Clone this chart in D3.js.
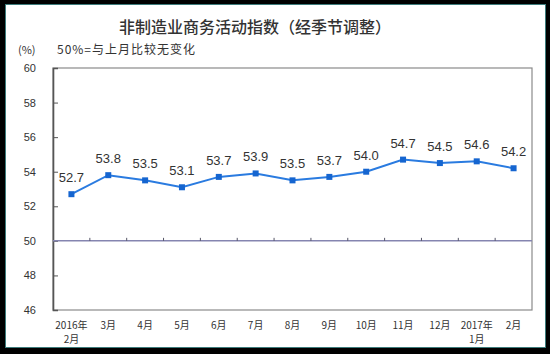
<!DOCTYPE html>
<html>
<head>
<meta charset="utf-8">
<script src="https://cdn.jsdelivr.net/npm/d3@7"></script>
<style>
  body { margin: 0; background: #000; }
  svg { display: block; }
  text { font-family: "Liberation Sans", Arial, "Noto Sans CJK SC", sans-serif; }
</style>
</head>
<body>
<div id="chart"></div>
<script>
// data
const months = ['2016年|2月', '3月', '4月', '5月', '6月', '7月', '8月', '9月', '10月', '11月', '12月', '2017年|1月', '2月'];
const values = [52.7, 53.8, 53.5, 53.1, 53.7, 53.9, 53.5, 53.7, 54.0, 54.7, 54.5, 54.6, 54.2];
const yTicks = [46, 48, 50, 52, 54, 56, 58, 60];
const title = '非制造业商务活动指数（经季节调整）';
const unitNote = '(%)';
const baseNote = '50%=与上月比较无变化';

const W = 550, H = 354;
const margin = {top: 68, right: 18, bottom: 44, left: 53};
const width = W - margin.left - margin.right;
const height = H - margin.top - margin.bottom;

const svg = d3.select('#chart').append('svg')
    .attr('width', W)
    .attr('height', H);

// white card with thin teal edge
svg.append('rect')
    .attr('x', 5.5).attr('y', 4.5)
    .attr('width', 540).attr('height', 343)
    .attr('fill', '#fff')
    .attr('stroke', '#3d7b7b')
    .attr('stroke-width', 1);

svg.append('text')
    .attr('x', 255).attr('y', 33)
    .attr('text-anchor', 'middle')
    .style('font-family', '"Noto Sans CJK SC", sans-serif')
    .style('font-size', '16px')
    .style('font-weight', 500)
    .style('fill', '#333')
    .text(title);

svg.append('text')
    .attr('x', 18).attr('y', 54)
    .style('font-family', '"Noto Sans CJK SC", sans-serif')
    .style('font-size', '11px')
    .style('fill', '#333')
    .text(unitNote);

svg.append('text')
    .attr('x', 57).attr('y', 54)
    .style('font-family', '"Noto Sans CJK SC", sans-serif')
    .style('font-size', '12px')
    .style('letter-spacing', '1px')
    .style('fill', '#333')
    .text(baseNote);

const g = svg.append('g')
    .attr('transform', `translate(${margin.left}, ${margin.top})`);

// scales
const x = d3.scaleBand()
    .domain(months)
    .range([0, width]);

const y = d3.scaleLinear()
    .domain([46, 60])
    .range([height, 0]);

// plot frame
g.append('rect')
    .attr('x', 0).attr('y', 0)
    .attr('width', width).attr('height', height)
    .attr('fill', 'none')
    .attr('stroke', '#8a8a8a')
    .attr('stroke-width', 1.2);

// y axis, ticks pointing inward
const yAxis = d3.axisRight(y)
    .tickValues(yTicks)
    .tickSize(5)
    .tickFormat('');

const yAxisGroup = g.append('g')
    .attr('class', 'y-axis')
    .call(yAxis);
yAxisGroup.select('.domain')
    .attr('stroke', '#555')
    .attr('stroke-width', 1.6);
yAxisGroup.selectAll('.tick line').attr('stroke', '#555');

// y tick labels
g.append('g').selectAll('text')
    .data(yTicks)
    .join('text')
    .attr('x', -17)
    .attr('y', d => y(d) + 4)
    .attr('text-anchor', 'end')
    .style('font-size', '11px')
    .style('fill', '#333')
    .text(d => d);

// 50 line with category ticks
g.append('line')
    .attr('x1', 0).attr('x2', width)
    .attr('y1', y(50)).attr('y2', y(50))
    .attr('stroke', '#8585b0')
    .attr('stroke-width', 1.5);

g.append('g').selectAll('line')
    .data(months.slice(1))
    .join('line')
    .attr('x1', d => x(d)).attr('x2', d => x(d))
    .attr('y1', y(50) - 3).attr('y2', y(50))
    .attr('stroke', '#556')
    .attr('stroke-width', 1);

// x labels
const xl = g.append('g').selectAll('text')
    .data(months)
    .join('text')
    .attr('x', d => x(d) + x.bandwidth() / 2)
    .attr('y', height + 19)
    .attr('text-anchor', 'middle')
    .style('font-family', '"Noto Sans CJK SC", sans-serif')
    .style('font-size', '10px')
    .style('fill', '#333');
xl.each(function(d) {
    const parts = d.split('|');
    d3.select(this).selectAll('tspan')
        .data(parts)
        .join('tspan')
        .attr('x', x(d) + x.bandwidth() / 2)
        .attr('dy', (p, i) => i === 0 ? 0 : 14)
        .text(p => p);
});

// line and markers
const pts = months.map((m, i) => ({m: m, v: values[i]}));
const cx = d => x(d.m) + x.bandwidth() / 2;

g.append('path')
    .datum(pts)
    .attr('fill', 'none')
    .attr('stroke', '#2a7be0')
    .attr('stroke-width', 2)
    .attr('d', d3.line().x(cx).y(d => y(d.v)));

g.append('g').selectAll('rect')
    .data(pts)
    .join('rect')
    .attr('x', d => cx(d) - 3)
    .attr('y', d => y(d.v) - 3)
    .attr('width', 6).attr('height', 6)
    .attr('fill', '#1565d0');

g.append('g').selectAll('text')
    .data(pts)
    .join('text')
    .attr('x', cx)
    .attr('y', d => y(d.v) - 12)
    .attr('text-anchor', 'middle')
    .style('font-size', '13px')
    .style('fill', '#333')
    .text(d => d.v.toFixed(1));
</script>
</body>
</html>
